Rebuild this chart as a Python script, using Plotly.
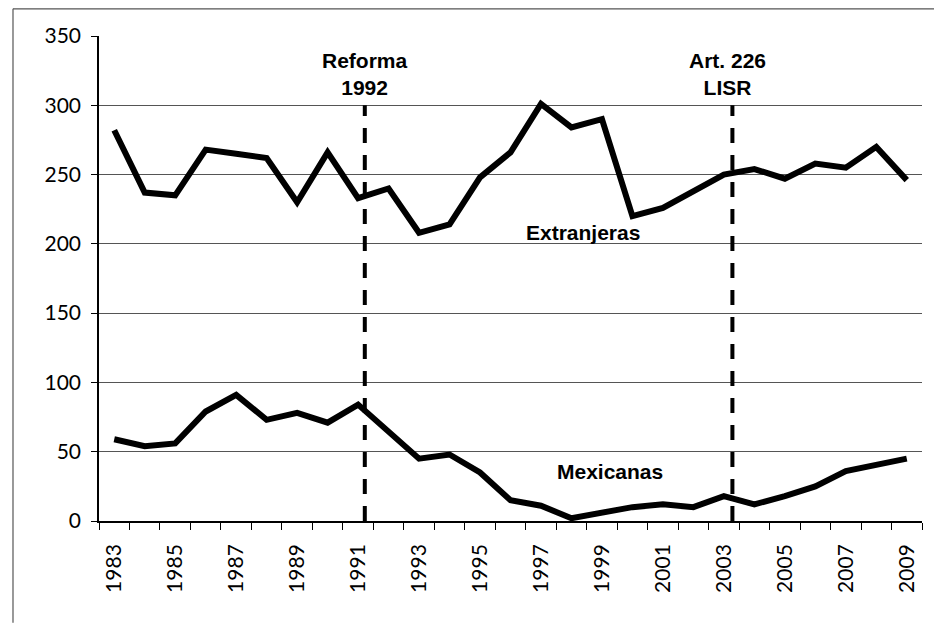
import plotly.graph_objects as go

years = list(range(1983, 2010))
extranjeras = [282, 237, 235, 268, 265, 262, 230, 266, 233, 240, 208, 214, 248, 266,
               301, 284, 290, 220, 226, 238, 250, 254, 247, 258, 255, 270, 246]
mexicanas = [59, 54, 56, 79, 91, 73, 78, 71, 84, 64, 45, 48, 35, 15,
             11, 2, 6, 10, 12, 10, 18, 12, 18, 25, 36, 41, 45]
event_x = [1991.22, 2003.28]
event_labels = ["Reforma<br>1992", "Art. 226<br>LISR"]
event_top = 300
series_labels = ["Extranjeras", "Mexicanas"]
series_label_x = [1998.38, 1999.26]
series_label_y = [208, 36]
y_ticks = [0, 50, 100, 150, 200, 250, 300, 350]
x_tick_years = years[::2]

fig = go.Figure()
for vals in (extranjeras, mexicanas):
    fig.add_trace(go.Scatter(x=years, y=vals, mode="lines",
                             line=dict(color="black", width=6),
                             showlegend=False, hoverinfo="skip"))

for ex, lab in zip(event_x, event_labels):
    fig.add_shape(type="line", xref="x", yref="y", x0=ex, x1=ex, y0=0, y1=event_top,
                  line=dict(color="black", width=4, dash="15px,12px"))
    fig.add_annotation(x=ex - (0.15 if "Art" in lab else 0), y=event_top, xref="x", yref="y",
                       text=lab, showarrow=False, yanchor="bottom", yshift=4,
                       font=dict(family="Liberation Sans", size=21, color="black", weight="bold"))

for t, xx, yy in zip(series_labels, series_label_x, series_label_y):
    fig.add_annotation(x=xx, y=yy, xref="x", yref="y", text=t, showarrow=False,
                       font=dict(family="Liberation Sans", size=21, color="black", weight="bold"))

# outer chart border (top & left)
fig.add_shape(type="line", xref="paper", yref="paper", x0=-0.1045, x1=1.05, y0=1.056, y1=1.056,
              line=dict(color="#555", width=1.2))
fig.add_shape(type="line", xref="paper", yref="paper", x0=-0.1045, x1=-0.1045, y0=1.056, y1=-0.21,
              line=dict(color="#555", width=1.2))

boundaries = [y - 0.5 for y in years] + [years[-1] + 0.5]

fig.update_layout(
    width=934, height=623,
    margin=dict(l=91, r=20, t=28, b=110),
    paper_bgcolor="white", plot_bgcolor="white",
    font=dict(family="Lato", size=21, color="black"),
    xaxis=dict(range=[years[0] - 0.5, years[-1] + 0.5], tickmode="array",
               tickvals=x_tick_years, ticktext=[str(y) for y in x_tick_years],
               tickangle=-90, ticks="", showgrid=False, zeroline=False,
               showline=True, linecolor="black", linewidth=1.5,
               ticklabelstandoff=13,
               minor=dict(tickmode="array", tickvals=boundaries, ticks="outside",
                          ticklen=7, tickcolor="black", tickwidth=1, showgrid=False)),
    yaxis=dict(range=[0, 350], tickmode="array", tickvals=y_ticks,
               ticks="outside", ticklen=6, tickcolor="black",
               showgrid=True, gridcolor="#555", gridwidth=1, zeroline=False,
               showline=True, linecolor="black", linewidth=1.5,
               ticklabelstandoff=6),
)

fig.write_html("out.html")
